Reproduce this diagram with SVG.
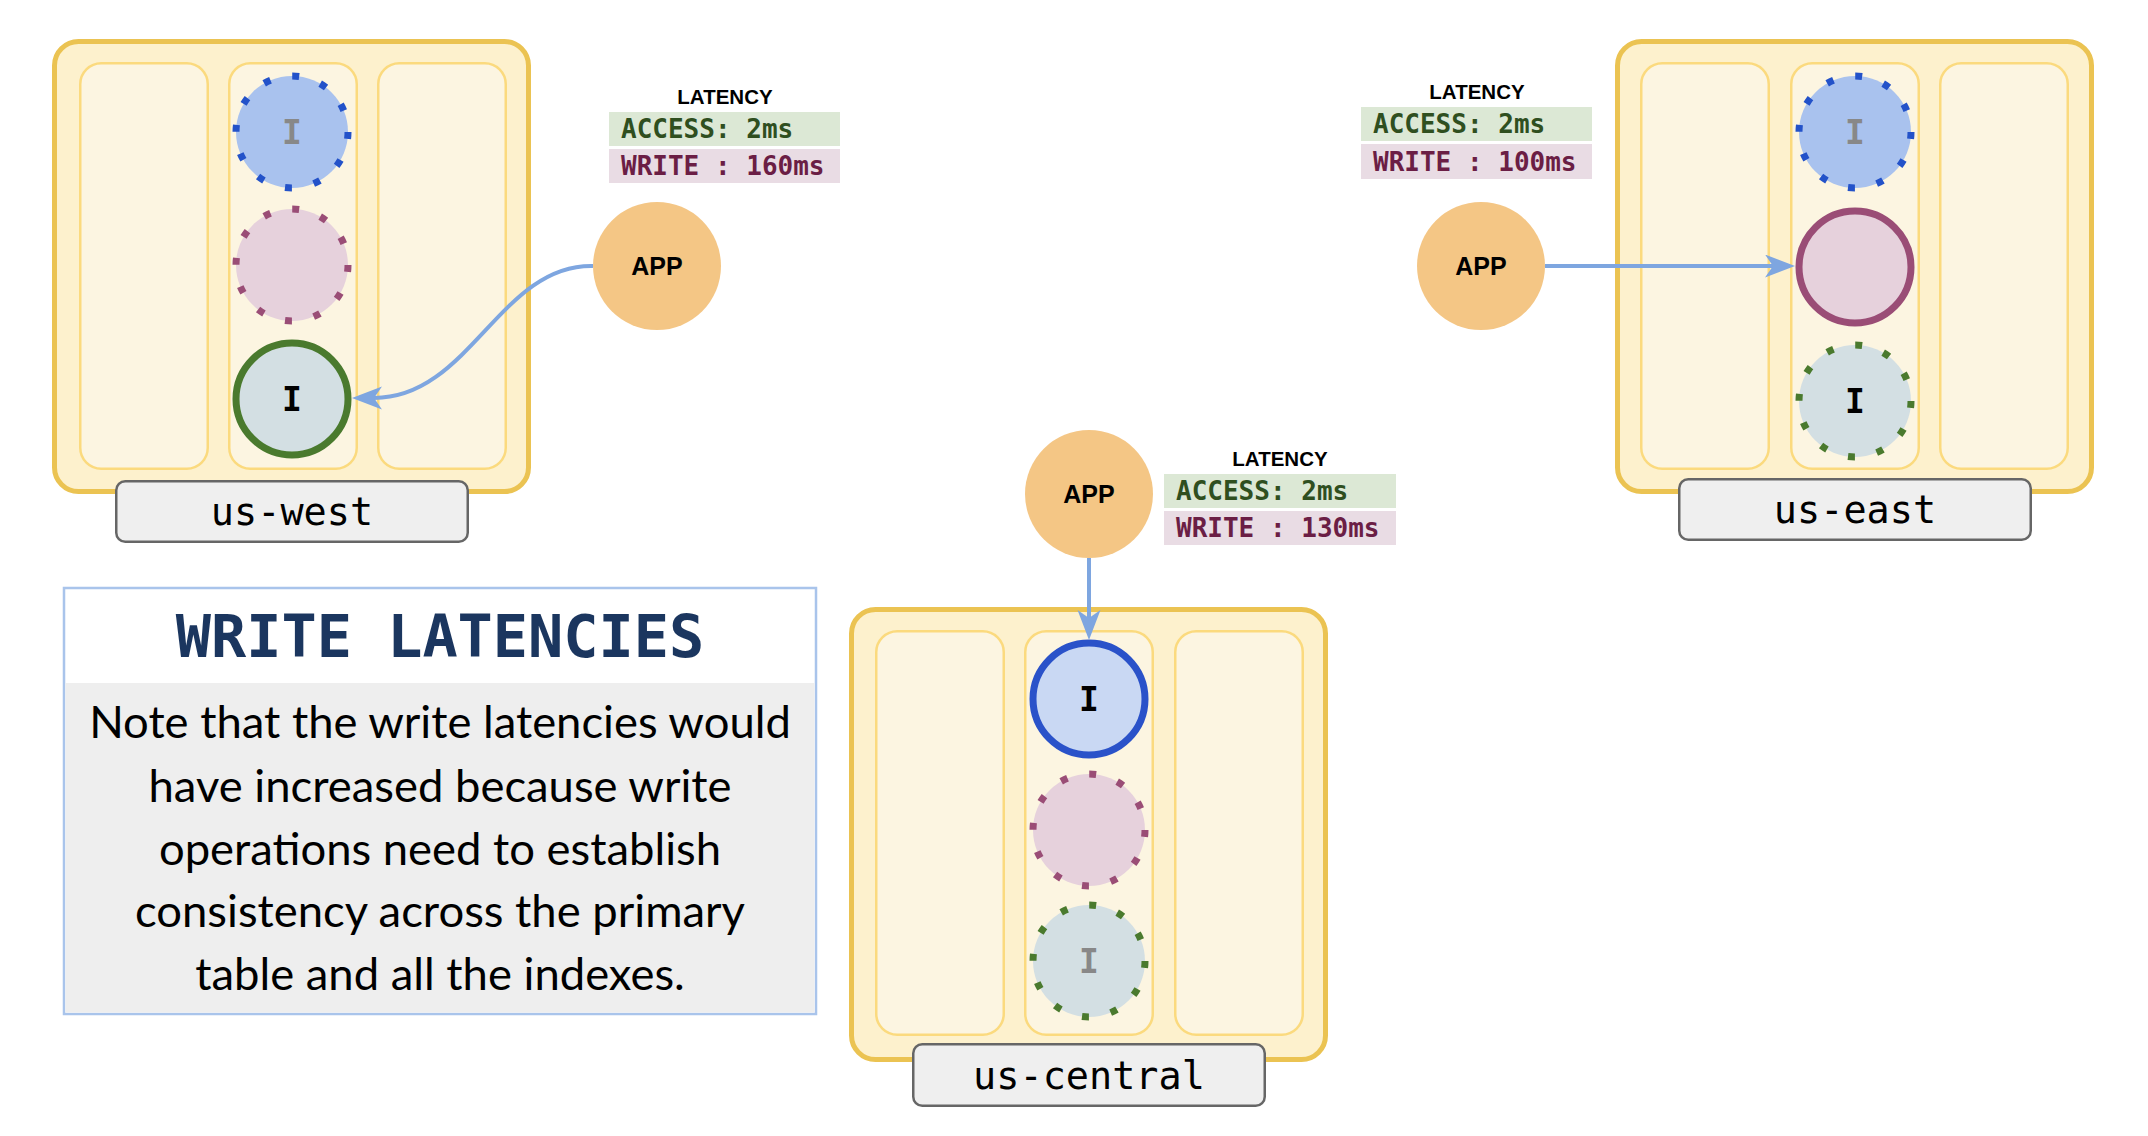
<svg xmlns="http://www.w3.org/2000/svg" width="2148" height="1136" viewBox="0 0 2148 1136">
<style>
.outer{fill:#FDF1CD;stroke:#EBC352;stroke-width:5}
.col{fill:#FCF5E1;stroke:#FBDA7E;stroke-width:2.5}
.lbl{fill:#EFEFEF;stroke:#666666;stroke-width:2.5}
.lbltxt{font-family:"DejaVu Sans Mono",monospace;font-size:38.5px;fill:#000;text-anchor:middle}
.blueD{fill:#A9C2EE;stroke:#2352C9;stroke-width:7;stroke-dasharray:7 22.3}
.pinkD{fill:#E6D1DC;stroke:#9A4D76;stroke-width:7;stroke-dasharray:7 22.3}
.greenD{fill:#D3DFE3;stroke:#4A7A2E;stroke-width:7;stroke-dasharray:7 22.3}
.blueS{fill:#C9D8F3;stroke:#2A52C9;stroke-width:7}
.pinkS{fill:#E6D1DC;stroke:#9A4D76;stroke-width:7}
.greenS{fill:#D3DFE3;stroke:#4A7A2E;stroke-width:7}
.itxt{font-family:"DejaVu Sans Mono",monospace;font-weight:bold;font-size:33px;text-anchor:middle}
.ion{fill:#000}
.ioff{fill:#888888}
.app{fill:#F4C685}
.apptxt{font-family:"Liberation Sans",Arial,sans-serif;font-weight:bold;font-size:25px;fill:#000;text-anchor:middle}
.lat{font-family:"Liberation Sans",Arial,sans-serif;font-weight:bold;font-size:20.5px;fill:#000;text-anchor:middle}
.accbox{fill:#DCE8D5}
.wrbox{fill:#E9DCE4}
.acctxt{font-family:"DejaVu Sans Mono",monospace;font-weight:bold;font-size:26px;fill:#2F4F1F}
.wrtxt{font-family:"DejaVu Sans Mono",monospace;font-weight:bold;font-size:26px;fill:#6B1E45}
.edge{fill:none;stroke:#7EA6E0;stroke-width:4}
.title{font-family:"DejaVu Sans Mono",monospace;font-weight:bold;font-size:58.5px;fill:#1B365F;text-anchor:middle}
.body{font-family:Lato,"Liberation Sans",sans-serif;font-size:45.4px;fill:#000;text-anchor:middle}
</style>
<defs>
<marker id="arr" markerUnits="userSpaceOnUse" markerWidth="32" markerHeight="25" refX="8" refY="11.5" orient="auto" viewBox="0 0 32 25">
<path d="M0,0 L30,11.5 L0,23 L8,11.5 Z" fill="#7EA6E0"/>
</marker>
</defs>
<rect width="2148" height="1136" fill="#FFFFFF"/>

<g id="us-west" transform="translate(52,39)">
<rect class="outer" x="2.5" y="2.5" width="474" height="450" rx="24"/>
<rect class="col" x="28.25" y="24.25" width="127.5" height="405.5" rx="21"/>
<rect class="col" x="177.25" y="24.25" width="127.5" height="405.5" rx="21"/>
<rect class="col" x="326.25" y="24.25" width="127.5" height="405.5" rx="21"/>
<g id="us-west-index-blue"><circle class="blueD" cx="240" cy="93" r="56"/><text class="itxt ioff" x="240" y="105">I</text></g>
<g id="us-west-table"><circle class="pinkD" cx="240" cy="226" r="56"/></g>
<g id="us-west-index-green"><circle class="greenS" cx="240" cy="360" r="56"/><text class="itxt ion" x="240" y="372">I</text></g>
<g id="us-west-label"><rect class="lbl" x="64.25" y="442.25" width="351.5" height="60.5" rx="9"/><text class="lbltxt" x="240" y="486">us-west</text></g>
</g>

<g id="us-east" transform="translate(1615,39)">
<rect class="outer" x="2.5" y="2.5" width="474" height="450" rx="24"/>
<rect class="col" x="26.25" y="24.25" width="127.5" height="405.5" rx="21"/>
<rect class="col" x="176.25" y="24.25" width="127.5" height="405.5" rx="21"/>
<rect class="col" x="325.25" y="24.25" width="127.5" height="405.5" rx="21"/>
<g id="us-east-index-blue"><circle class="blueD" cx="240" cy="93" r="56"/><text class="itxt ioff" x="240" y="105">I</text></g>
<g id="us-east-table"><circle class="pinkS" cx="240" cy="228" r="56"/></g>
<g id="us-east-index-green"><circle class="greenD" cx="240" cy="362" r="56"/><text class="itxt ion" x="240" y="374">I</text></g>
<g id="us-east-label"><rect class="lbl" x="64.25" y="440.25" width="351.5" height="60.5" rx="9"/><text class="lbltxt" x="240" y="484">us-east</text></g>
</g>

<g id="us-central" transform="translate(849,607)">
<rect class="outer" x="2.5" y="2.5" width="474" height="450" rx="24"/>
<rect class="col" x="27.25" y="24.25" width="127.5" height="403.5" rx="21"/>
<rect class="col" x="176.25" y="24.25" width="127.5" height="403.5" rx="21"/>
<rect class="col" x="326.25" y="24.25" width="127.5" height="403.5" rx="21"/>
<g id="us-central-index-blue"><circle class="blueS" cx="240" cy="92" r="56"/><text class="itxt ion" x="240" y="104">I</text></g>
<g id="us-central-table"><circle class="pinkD" cx="240" cy="223" r="56"/></g>
<g id="us-central-index-green"><circle class="greenD" cx="240" cy="354" r="56"/><text class="itxt ioff" x="240" y="366">I</text></g>
<g id="us-central-label"><rect class="lbl" x="64.25" y="437.25" width="351.5" height="61.5" rx="9"/><text class="lbltxt" x="240" y="482">us-central</text></g>
</g>

<g id="app-west"><circle class="app" cx="657" cy="266" r="64"/><text class="apptxt" x="657" y="275">APP</text></g>
<g id="app-east"><circle class="app" cx="1481" cy="266" r="64"/><text class="apptxt" x="1481" y="275">APP</text></g>
<g id="app-central"><circle class="app" cx="1089" cy="494" r="64"/><text class="apptxt" x="1089" y="503">APP</text></g>

<g id="latency-west">
<text class="lat" x="725" y="104">LATENCY</text>
<rect class="accbox" x="609" y="112" width="231" height="34"/>
<rect class="wrbox" x="609" y="149" width="231" height="34"/>
<text class="acctxt" x="621" y="138">ACCESS: 2ms</text>
<text class="wrtxt" x="621" y="175">WRITE : 160ms</text>
</g>
<g id="latency-east">
<text class="lat" x="1477" y="99">LATENCY</text>
<rect class="accbox" x="1361" y="107" width="231" height="34"/>
<rect class="wrbox" x="1361" y="144" width="231" height="35"/>
<text class="acctxt" x="1373" y="133">ACCESS: 2ms</text>
<text class="wrtxt" x="1373" y="171">WRITE : 100ms</text>
</g>
<g id="latency-central">
<text class="lat" x="1280" y="466">LATENCY</text>
<rect class="accbox" x="1164" y="474" width="232" height="34"/>
<rect class="wrbox" x="1164" y="511" width="232" height="34"/>
<text class="acctxt" x="1176" y="500">ACCESS: 2ms</text>
<text class="wrtxt" x="1176" y="537">WRITE : 130ms</text>
</g>

<g id="connectors">
<path class="edge" d="M593,266 C500,264 470,398 374,398" marker-end="url(#arr)"/>
<path class="edge" d="M1545,266 L1773,266" marker-end="url(#arr)"/>
<path class="edge" d="M1089,558 L1089,618" marker-end="url(#arr)"/>
</g>

<g id="note">
<rect x="64" y="588" width="752" height="426" fill="#FFFFFF" stroke="#A9C4EB" stroke-width="2.5"/>
<rect x="65.5" y="683" width="749" height="329.5" fill="#EEEEEE"/>
<text class="title" x="440" y="657">WRITE LATENCIES</text>
<text class="body" x="440" y="738">Note that the write latencies would</text>
<text class="body" x="440" y="802">have increased because write</text>
<text class="body" x="440" y="865">operations need to establish</text>
<text class="body" x="440" y="927">consistency across the primary</text>
<text class="body" x="440" y="990">table and all the indexes.</text>
</g>
</svg>
